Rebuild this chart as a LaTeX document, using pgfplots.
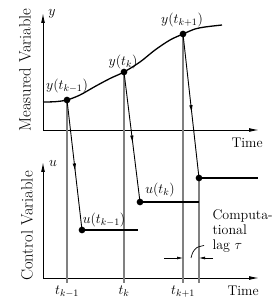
\documentclass[border=0pt]{standalone}
\usepackage{fix-cm}
\usepackage{fontspec}
\usepackage{pgfplots}
\pgfplotsset{compat=1.18}
\usetikzlibrary{arrows.meta,decorations.markings}
\tikzset{
  lbl/.style={font=\fontsize{14}{15}\selectfont},
  axarrow/.style={black, line width=0.9pt, -{Latex[length=10pt,width=3.8pt]}},
  midarrow/.style={black, line width=0.9pt, postaction={decorate},
    decoration={markings, mark=at position 0.55 with {\arrow{Latex[length=8pt,width=3.4pt]}}}},
  gline/.style={gray, line width=1.1pt}}
\begin{document}
\begin{tikzpicture}
\begin{axis}[scale only axis, width=274pt, height=297pt,
  xmin=0, xmax=274, ymin=0, ymax=297, hide axis, clip=false]
% axes
\addplot[axarrow] coordinates {(43,167) (43,284)};
\addplot[axarrow] coordinates {(43,167) (259,167)};
\addplot[axarrow] coordinates {(43,19) (43,135)};
\addplot[axarrow] coordinates {(43,19) (259,19)};
% gray sampling lines
\addplot[gline] coordinates {(67,197) (67,14)};
\addplot[gline] coordinates {(124,225) (124,14)};
\addplot[gline] coordinates {(183,263) (183,14)};
\addplot[gline] coordinates {(199,119) (199,14)};
% measured curve
\addplot[black, line width=1.3pt, smooth] coordinates {(43,195) (55,195.3) (67,197) (80,202) (95,210.5) (110,218.5) (124,225) (140,235) (155,247) (170,257) (183,263) (195,268) (205,270) (222,272)};
% slanted arrows
\addplot[midarrow] coordinates {(67,197) (82,67)};
\addplot[midarrow] coordinates {(124,225) (140,95)};
\addplot[midarrow] coordinates {(183,263) (199,119)};
% control horizontal segments
\addplot[black, line width=1.6pt] coordinates {(82,67) (138,67)};
\addplot[black, line width=1.6pt] coordinates {(140,95) (199,95)};
\addplot[black, line width=1.6pt] coordinates {(199,119) (258,119)};
% dots
\addplot[only marks, mark=*, mark size=3.1pt, black] coordinates {(67,197) (124,225) (183,263) (82,67) (140,95) (199,119)};
% lag arrows
\addplot[black, line width=0.7pt, -{Latex[length=6pt,width=3pt]}] coordinates {(164,39) (183,39)};
\addplot[black, line width=0.7pt, -{Latex[length=6pt,width=3pt]}] coordinates {(213,39) (199,39)};
\addplot[black, line width=0.7pt, smooth] coordinates {(191,39) (193,45) (197,49.5) (204,51.5)};
% labels
\node[lbl] at (axis cs:52,283) {$y$};
\node[lbl] at (axis cs:53,134) {$u$};
\node[lbl] at (axis cs:67,211) {$y(t_{k-1})$};
\node[lbl] at (axis cs:123,235) {$y(t_k)$};
\node[lbl] at (axis cs:182,277) {$y(t_{k+1})$};
\node[lbl] at (axis cs:104,77) {$u(t_{k-1})$};
\node[lbl] at (axis cs:160,107) {$u(t_k)$};
\node[lbl, anchor=base west] at (axis cs:228,149) {Time};
\node[lbl, anchor=base west] at (axis cs:224,2) {Time};
\node[lbl, anchor=base] at (axis cs:67,3) {$t_{k-1}$};
\node[lbl, anchor=base] at (axis cs:124,3) {$t_k$};
\node[lbl, anchor=base] at (axis cs:183,3) {$t_{k+1}$};
\node[lbl, anchor=west, align=left] at (axis cs:209,66) {Computa-\\tional\\lag $\tau$};
\node[font=\fontsize{16.5}{18}\selectfont, rotate=90] at (axis cs:25,227) {Measured Variable};
\node[font=\fontsize{16.5}{18}\selectfont, rotate=90] at (axis cs:27,71) {Control Variable};
\end{axis}
\pgfresetboundingbox
\path (current axis.south west) rectangle (current axis.north east);
\end{tikzpicture}
\end{document}
